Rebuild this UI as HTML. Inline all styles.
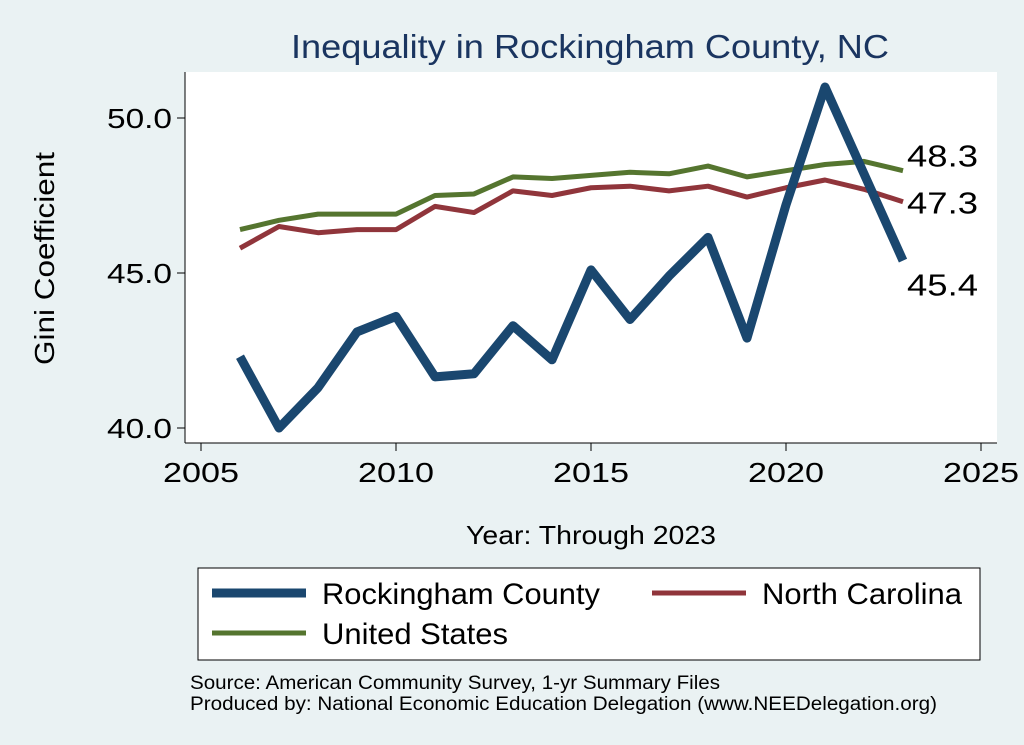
<!DOCTYPE html>
<html><head><meta charset="utf-8"><style>
body{margin:0;background:#eaf2f3;}
svg{display:block;font-family:"Liberation Sans",sans-serif;}
</style></head><body>
<svg id="c" width="1024" height="745">
<rect x="0" y="0" width="1024" height="745" fill="#eaf2f3"/>
<rect x="185" y="72" width="812" height="371" fill="#ffffff"/>
<text x="291" y="58" textLength="598" lengthAdjust="spacingAndGlyphs" font-size="33" fill="#1a3560">Inequality in Rockingham County, NC</text>
<text transform="translate(54,365) rotate(-90)" textLength="213" lengthAdjust="spacingAndGlyphs" font-size="28" fill="#000">Gini Coefficient</text>
<text x="466" y="544" textLength="250" lengthAdjust="spacingAndGlyphs" font-size="26" fill="#000">Year: Through 2023</text>
<g id="axes"></g>
<g id="lines"></g>
<g>
<rect x="198" y="568" width="782" height="92" fill="#fff" stroke="#000" stroke-width="1"/>
<line x1="212" y1="593" x2="306" y2="593" stroke="#1a476f" stroke-width="9"/>
<text x="322" y="604" textLength="278" lengthAdjust="spacingAndGlyphs" font-size="30">Rockingham County</text>
<line x1="652" y1="593" x2="746" y2="593" stroke="#90353b" stroke-width="5"/>
<text x="762" y="604" textLength="200" lengthAdjust="spacingAndGlyphs" font-size="30">North Carolina</text>
<line x1="212" y1="633" x2="306" y2="633" stroke="#55752f" stroke-width="5"/>
<text x="322" y="644" textLength="186" lengthAdjust="spacingAndGlyphs" font-size="30">United States</text>
</g>
<text x="190" y="689" textLength="530" lengthAdjust="spacingAndGlyphs" font-size="19">Source: American Community Survey, 1-yr Summary Files</text>
<text x="190" y="710" textLength="747" lengthAdjust="spacingAndGlyphs" font-size="19">Produced by: National Economic Education Delegation (www.NEEDelegation.org)</text>
</svg>
<script>
const years=[2006,2007,2008,2009,2010,2011,2012,2013,2014,2015,2016,2017,2018,2019,2020,2021,2022,2023];
const rockingham=[42.3,40.0,41.3,43.1,43.6,41.65,41.75,43.3,42.2,45.1,43.5,44.9,46.15,42.9,47.2,51.0,48.2,45.4];
const northCarolina=[45.8,46.5,46.3,46.4,46.4,47.15,46.95,47.65,47.5,47.75,47.8,47.65,47.8,47.45,47.75,48.0,47.7,47.3];
const unitedStates=[46.4,46.7,46.9,46.9,46.9,47.5,47.55,48.1,48.05,48.15,48.25,48.2,48.45,48.1,48.3,48.5,48.6,48.3];
const xTicks=[2005,2010,2015,2020,2025];
const yTicks=[40,45,50];
const NS="http://www.w3.org/2000/svg";
function X(v){return 201+(v-2005)*39;}
function Y(v){return 118+(50-v)*31;}
function mk(t,a,p){const e=document.createElementNS(NS,t);for(const k in a)e.setAttribute(k,a[k]);p.appendChild(e);return e;}
const ax=document.getElementById('axes');
let e=mk('line',{x1:185,y1:72,x2:185,y2:443,stroke:'#000','stroke-width':1},ax);


e=mk('line',{x1:185,y1:443,x2:997,y2:443,stroke:'#000','stroke-width':1},ax);


yTicks.forEach(v=>{
 mk('line',{x1:177,y1:Y(v),x2:185,y2:Y(v),stroke:'#000'},ax);
 const t=mk('text',{x:107,y:Y(v)+10,textLength:65,lengthAdjust:'spacingAndGlyphs','font-size':28},ax);t.textContent=v.toFixed(1);
 
 
});
xTicks.forEach(v=>{
 mk('line',{x1:X(v),y1:443,x2:X(v),y2:451,stroke:'#000'},ax);
 const t=mk('text',{x:X(v)-38,y:482,textLength:76,lengthAdjust:'spacingAndGlyphs','font-size':28},ax);t.textContent=v;
 
 
});
const lg=document.getElementById('lines');
function series(vals,color,w,name,dy){
 const p=mk('polyline',{points:vals.map((v,i)=>X(years[i])+','+Y(v)).join(' '),fill:'none',stroke:color,'stroke-width':w,'stroke-linejoin':'round'},lg);
 
 
 const last=vals[vals.length-1];
 const t=mk('text',{x:X(years[years.length-1])+4,y:Y(last)+dy,textLength:71,lengthAdjust:'spacingAndGlyphs','font-size':31},lg);
 t.textContent=last.toFixed(1);
 
 
}
series(unitedStates,'#55752f',5,'us-line',-4);
series(northCarolina,'#90353b',5,'nc-line',12);
series(rockingham,'#1a476f',9,'rockingham-line',35);
</script>
</body></html>
